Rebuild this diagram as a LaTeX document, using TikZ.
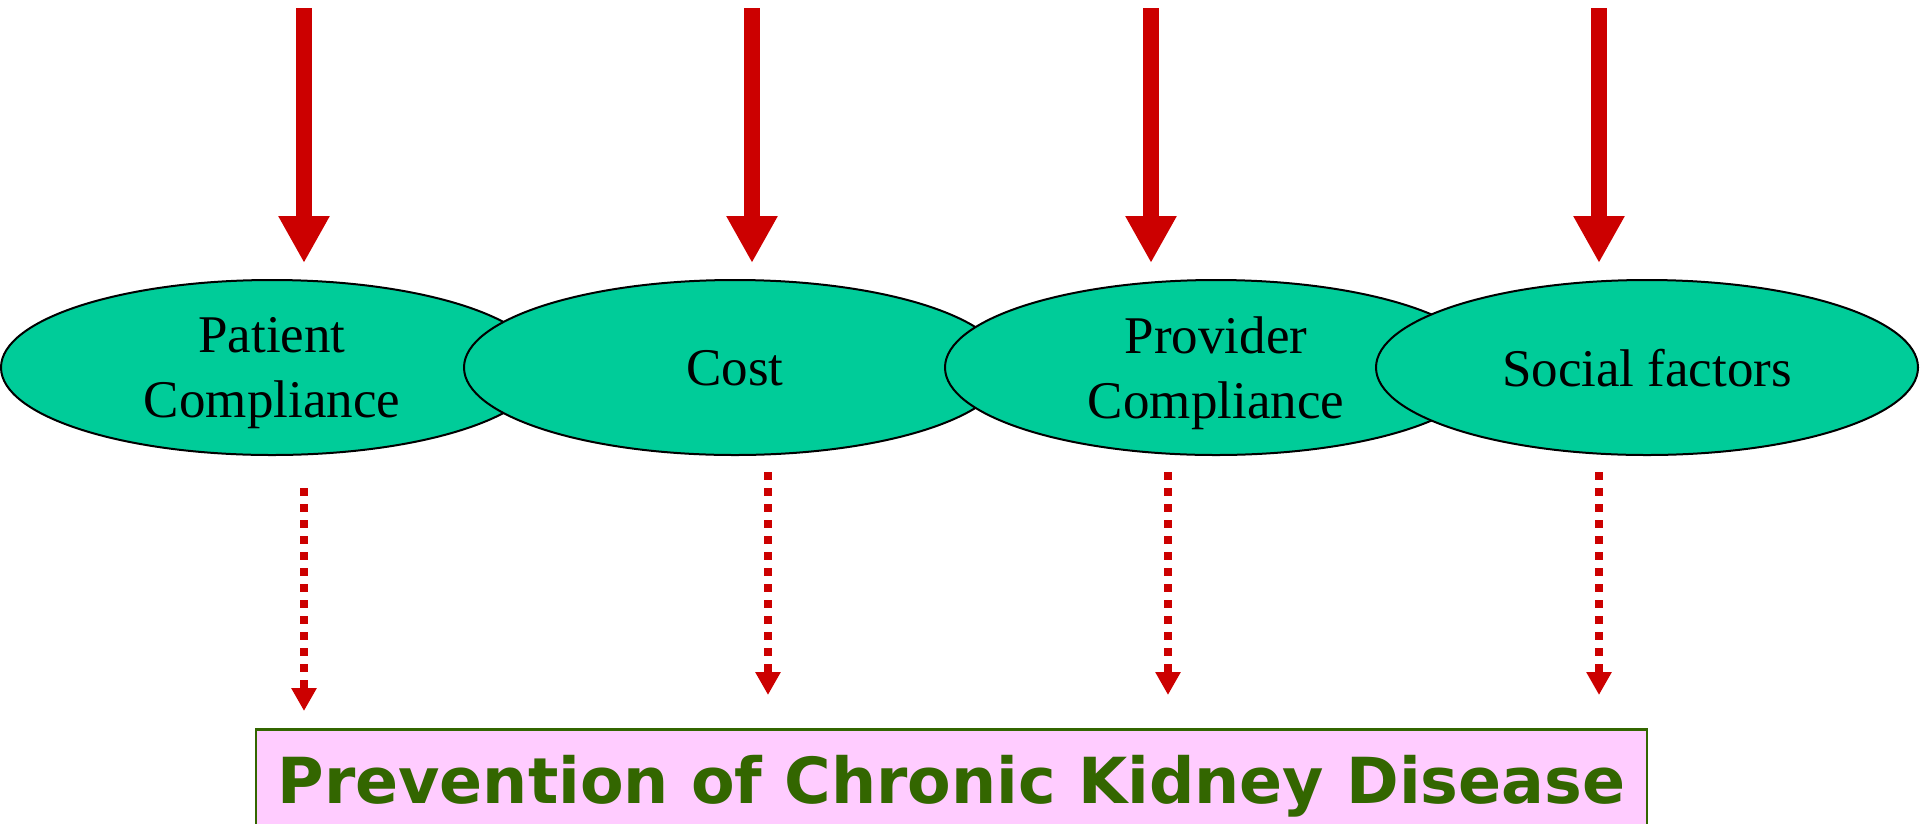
\documentclass[tikz,border=0pt]{standalone}
\usepackage{fontspec}
\setmainfont{Liberation Serif}
\newfontfamily\boxfont{DejaVu Sans}
\usetikzlibrary{shapes.geometric,arrows.meta,calc}
\definecolor{arrowred}{HTML}{CC0000}
\definecolor{factorfill}{HTML}{00CC99}
\definecolor{boxfill}{HTML}{FFCCFF}
\definecolor{boxgreen}{HTML}{336600}
\begin{document}
\begin{tikzpicture}[x=1pt,y=-1pt,
  factor/.style={ellipse, draw=black, line width=2pt, fill=factorfill,
    minimum width=542pt, minimum height=175pt, inner sep=0pt, outer sep=0pt,
    align=center, text depth=0pt,
    font=\fontsize{53}{65}\selectfont},
  bigarrow/.style={draw=arrowred, line width=16pt,
    -{Triangle[length=47pt,width=48pt]}, arrowred},
  dotarrow/.style={draw=arrowred, line width=8pt, dash pattern=on 8pt off 8pt,
    -{Triangle[length=23pt,width=24pt]}, arrowred},
  goalbox/.style={rectangle, draw=boxgreen, line width=2.5pt, fill=boxfill,
    minimum width=1391pt, inner xsep=0pt, inner ysep=27pt,
    text height=47pt, text depth=100pt, text=boxgreen,
    font=\boxfont\bfseries\fontsize{63.5}{70}\selectfont}
]
\clip (0,0) rectangle (1920,823);

% factor ellipses, each drawn over the previous one
\node[factor] (e1) at (272,367.5) {Patient\\Compliance};
\node[factor] (e2) at (735,367.5) {Cost};
\node[factor] (e3) at (1216,367.5) {Provider\\Compliance};
\node[factor] (e4) at (1647,367.5) {Social factors};

% goal box (its lower edge runs off the bottom)
\node[goalbox, anchor=north] (goal) at (951.5,728)
  {Prevention of Chronic Kidney Disease};

% start points of the incoming arrows
\coordinate (a1) at (304,8);
\coordinate (a2) at (752,8);
\coordinate (a3) at (1151,8);
\coordinate (a4) at (1599,8);

% columns of the dotted arrows
\coordinate (d1) at (304,0);
\coordinate (d2) at (768,0);
\coordinate (d3) at (1168,0);
\coordinate (d4) at (1599,0);

% incoming solid arrows
\draw[bigarrow, shorten >=17pt] (a1) -- (a1 |- e1.north);
\draw[bigarrow, shorten >=17pt] (a2) -- (a2 |- e2.north);
\draw[bigarrow, shorten >=17pt] (a3) -- (a3 |- e3.north);
\draw[bigarrow, shorten >=17pt] (a4) -- (a4 |- e4.north);

% dotted arrows towards the goal
\draw[dotarrow, shorten <=33pt, shorten >=17pt] (d1 |- e1.south) -- (d1 |- goal.north);
\draw[dotarrow, shorten <=17pt, shorten >=33pt] (d2 |- e2.south) -- (d2 |- goal.north);
\draw[dotarrow, shorten <=17pt, shorten >=33pt] (d3 |- e3.south) -- (d3 |- goal.north);
\draw[dotarrow, shorten <=17pt, shorten >=33pt] (d4 |- e4.south) -- (d4 |- goal.north);
\end{tikzpicture}
\end{document}
